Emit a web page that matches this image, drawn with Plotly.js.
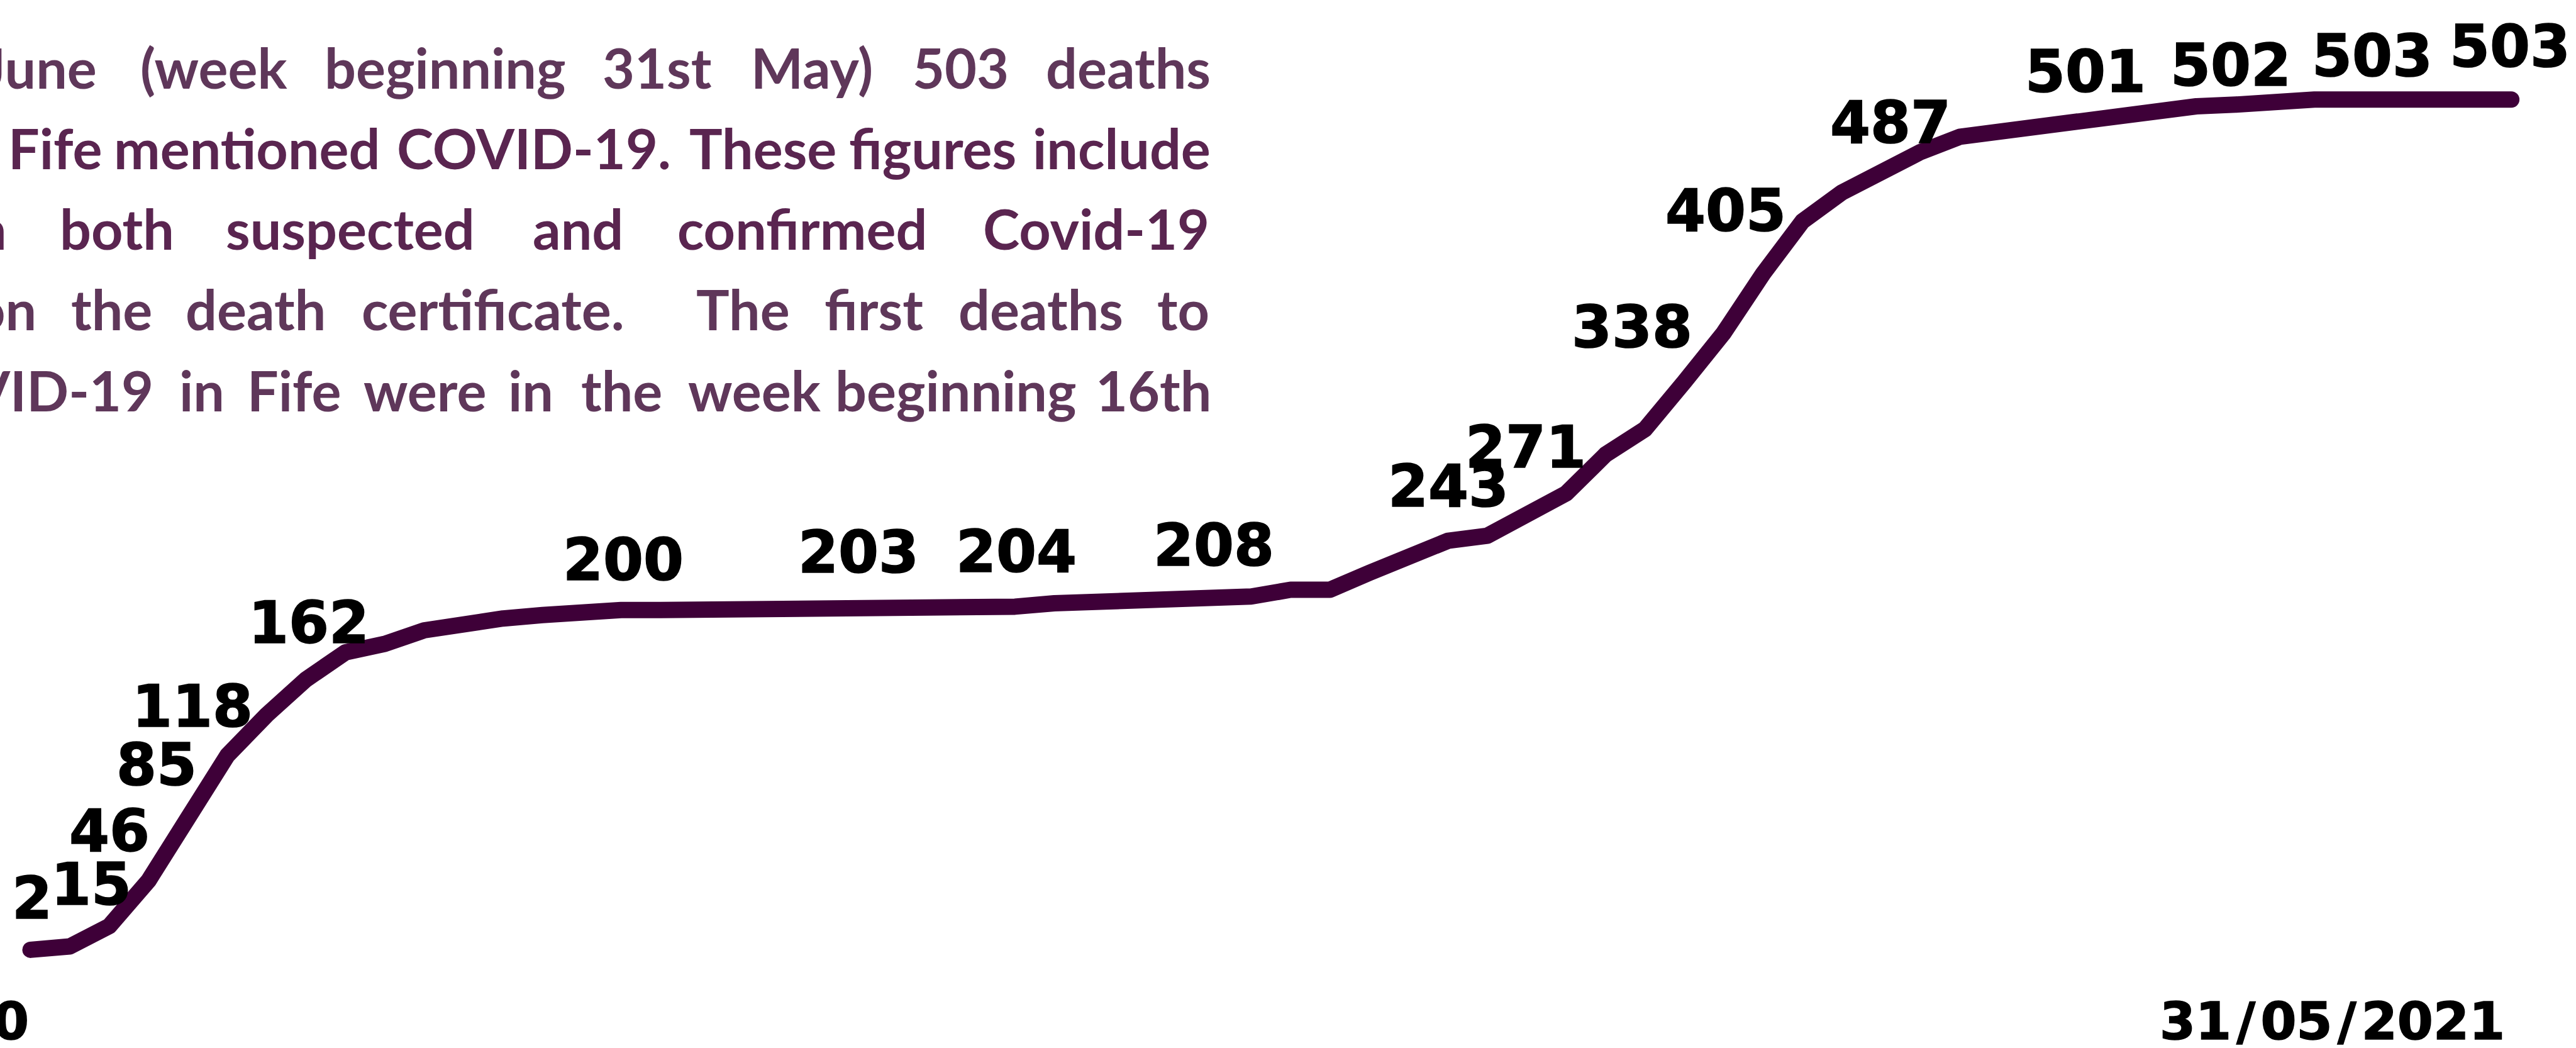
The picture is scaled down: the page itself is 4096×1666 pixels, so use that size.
<!DOCTYPE html>
<html><head><meta charset="utf-8">
<script src="https://cdn.plot.ly/plotly-3.0.1.min.js"></script>
<style>
html,body{margin:0;padding:0;background:#fff;overflow:hidden}
#chart{width:4096px;height:1666px}
.js-line{stroke-linejoin:round !important;stroke-linecap:round !important}
text.annotation-text[style*="fill: rgb(0, 0, 0)"]{stroke:#000;stroke-width:1.6px;paint-order:stroke}
</style></head><body><div id="chart"></div>
<script>
// Week beginning (cumulative COVID-19 deaths, Fife)
const weeks = [
 "16/03/2020","23/03/2020","30/03/2020","06/04/2020","13/04/2020","20/04/2020","27/04/2020",
 "04/05/2020","11/05/2020","18/05/2020","25/05/2020","01/06/2020","08/06/2020","15/06/2020",
 "22/06/2020","29/06/2020","06/07/2020","13/07/2020","20/07/2020","27/07/2020","03/08/2020",
 "10/08/2020","17/08/2020","24/08/2020","31/08/2020","07/09/2020","14/09/2020","21/09/2020",
 "28/09/2020","05/10/2020","12/10/2020","19/10/2020","26/10/2020","02/11/2020","09/11/2020",
 "16/11/2020","23/11/2020","30/11/2020","07/12/2020","14/12/2020","21/12/2020","28/12/2020",
 "04/01/2021","11/01/2021","18/01/2021","25/01/2021","01/02/2021","08/02/2021","15/02/2021",
 "22/02/2021","01/03/2021","08/03/2021","15/03/2021","22/03/2021","29/03/2021","05/04/2021",
 "12/04/2021","19/04/2021","26/04/2021","03/05/2021","10/05/2021","17/05/2021","24/05/2021",
 "31/05/2021"];
const deaths = [
 0, 2, 14, 41, 78, 115, 139, 160, 176, 181, 189, 193, 196, 198,
 200, 201, 201, 201, 201, 201, 201, 201, 201, 201, 202, 203, 205, 206,
 206, 206, 207, 209, 213, 213, 223, 233, 242, 245, 257, 270, 293, 308,
 336, 365, 400, 431, 448, 460, 472, 481, 484, 486, 489, 494, 495, 499,
 500, 502, 503, 503, 503, 503, 503, 503];
// data labels shown on the chart and the week each one belongs to
const labelValues = [2, 15, 46, 85, 118, 162, 200, 203, 204, 208, 243, 271, 338, 405, 487, 501, 502, 503, 503];
const labelWeekIdx = [0, 1, 3, 4, 5, 7, 15, 21, 25, 30, 36, 39, 42, 44, 48, 52, 56, 59, 63];
const axisLabels = ["16/03/2020", "31/05/2021"];

const S = 4096 / 4224;
// label offsets from their point (reference px, +y down)
const labelOffsets = [[3,-84],[35,-101],[-64,-81],[-51,-86],[-57,-80],[4,-92],[3,-82],[2,-94],[2,-90],[3,-89],
  [0,-89],[-66,-75],[-86,-89],[-61,-103],[-49,-48],[12,-84],[-8,-64],[30,-71],[-2,-86]];

const annotations = [];
labelValues.forEach((v, k) => {
  const i = labelWeekIdx[k];
  annotations.push({
    xref: 'x', yref: 'y', x: weeks[i], y: deaths[i], showarrow: false,
    text: String(v), xanchor: 'center', yanchor: 'middle',
    xshift: labelOffsets[k][0] * S, yshift: -labelOffsets[k][1] * S,
    font: {family: 'DejaVu Sans', size: 92, color: '#000', weight: 'bold'}
  });
});
const fmtDate = s => s.split('/').join('\u200a/\u200a');
annotations.push({xref: 'x', yref: 'paper', x: weeks[0], y: 1 - 1674/1718, xanchor: 'right', yanchor: 'middle',
  xshift: -1 * S, showarrow: false, text: fmtDate(axisLabels[0]),
  font: {family: 'DejaVu Sans', size: 82, color: '#000', weight: 'bold'}});
annotations.push({xref: 'x', yref: 'paper', x: weeks[weeks.length-1], y: 1 - 1674/1718, xanchor: 'right', yanchor: 'middle',
  xshift: -8 * S, showarrow: false, text: fmtDate(axisLabels[1]),
  font: {family: 'DejaVu Sans', size: 82, color: '#000', weight: 'bold'}});

// paragraph (justified, cropped at left)
const lineY = [110, 242, 374, 506, 639];
const lineCol = ['#5f375a', '#5a2550', '#5a2550', '#5f375a', '#5f375a'];
const para = [
 [['June','right',161],['(week','center',350.5],['beginning','center',730],['31st','center',1078],['May)','center',1331],['503','center',1575.5],['deaths','right',1987]],
 [['Fife','center',90],['mentioned','center',405],['COVID-19.','center',876],['These','center',1251],['figures','center',1529],['include','right',1987]],
 [['n','right',13],['both','center',192],['suspected','center',574.5],['and','center',947.5],['confirmed','center',1315.5],['Covid-19','right',1985]],
 [['on','right',62],['the','center',183],['death','center',419],['certificate.','center',808.5],['The','center',1218.5],['first','center',1432.5],['deaths','center',1707],['to','right',1985]],
 [['VID-19','right',254],['in','center',331.5],['Fife','center',482],['were','center',696.5],['in','center',870.5],['the','center',1019],['week','center',1238],['beginning','center',1567],['16th','right',1988]]
];
para.forEach((ln, li) => ln.forEach(w => {
  annotations.push({xref: 'paper', yref: 'paper', x: w[2]/4224, y: 1 - lineY[li]/1718,
    xanchor: w[1], yanchor: 'middle', showarrow: false, text: w[0],
    font: {family: 'Lato', size: 88, color: lineCol[li], weight: 'bold'}});
}));

const trace = {x: weeks, y: deaths, type: 'scatter', mode: 'lines',
  line: {color: '#3e0038', width: 26, shape: 'linear'}, hoverinfo: 'skip'};

const layout = {
  width: 4096, height: 1666, margin: {l: 0, r: 0, t: 0, b: 0, pad: 0},
  paper_bgcolor: '#fff', plot_bgcolor: '#fff', showlegend: false,
  xaxis: {type: 'category', range: [-50/64.57, (4224-50)/64.57], visible: false, fixedrange: true},
  yaxis: {range: [(1557-1718)/2.771, 1557/2.771], visible: false, fixedrange: true},
  annotations: annotations
};
Plotly.newPlot('chart', [trace], layout, {staticPlot: true, displayModeBar: false});
</script></body></html>
